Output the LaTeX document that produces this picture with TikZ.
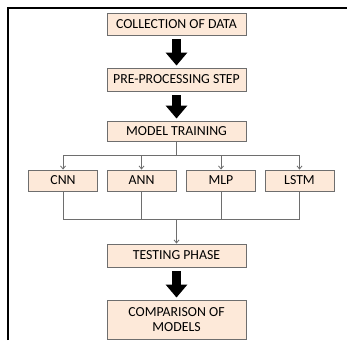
\documentclass[tikz,border=0pt]{standalone}
\usepackage{fontspec}
\setmainfont{Carlito}
\usetikzlibrary{arrows.meta, positioning}
\definecolor{peach}{RGB}{253,233,217}
\definecolor{boxline}{RGB}{110,110,110}
\definecolor{linkgray}{RGB}{110,110,110}
\tikzstyle{stagebox} = [rectangle, minimum width=139pt, minimum height=22pt, inner sep=0pt, text centered, draw=boxline, line width=0.9pt, fill=peach, font=\fontsize{13.8}{15}\selectfont, text=black]
\tikzstyle{modelbox} = [stagebox, minimum width=69pt, minimum height=21pt]
\tikzstyle{bigarrow} = [line width=9pt, -{Triangle[width=21pt, length=13pt]}, shorten <=4pt, shorten >=2pt]
\tikzstyle{link} = [linkgray, line width=0.8pt, -{Straight Barb[length=3pt, width=5pt]}]
\tikzstyle{joint} = [linkgray, line width=0.8pt]

\begin{document}
\begin{tikzpicture}[x=1pt, y=1pt]
\useasboundingbox (0,0) rectangle (347,340);

% Frame
\draw[line width=2pt] (8,0) -- (8,332) -- (347,332);

% Nodes
\node (collect) [stagebox] at (176.5,316) {COLLECTION OF DATA};
\node (prep) [stagebox, minimum height=23pt] at (176.5,260.5) {PRE-PROCESSING STEP};
\node (train) [stagebox, minimum height=20pt] at (176.5,209) {MODEL TRAINING};
\node (cnn) [modelbox] at (63,159.5) {CNN};
\node (ann) [modelbox] at (141.5,159.5) {ANN};
\node (mlp) [modelbox] at (221,159.5) {MLP};
\node (lstm) [modelbox] at (299.5,159.5) {LSTM};
\node (test) [stagebox, minimum height=23pt] at (176.5,84.5) {TESTING PHASE};
\node (compare) [stagebox, minimum height=39.5pt, align=center] at (176.5,20.25) {COMPARISON OF\\MODELS};
\coordinate (split) at (176.5,185);
\coordinate (merge) at (176.5,121);

% Arrows
\draw [bigarrow] (collect) -- (prep);
\draw [bigarrow] (prep) -- (train);
\draw [joint] (train) -- (split);
\foreach \m in {cnn, ann, mlp, lstm}
  \draw [link] (split) -| (\m);
\foreach \m in {cnn, ann, mlp, lstm}
  \draw [joint] (\m) |- (merge);
\draw [link] (merge) -- (test);
\draw [bigarrow] (test) -- (compare);

\end{tikzpicture}
\end{document}
